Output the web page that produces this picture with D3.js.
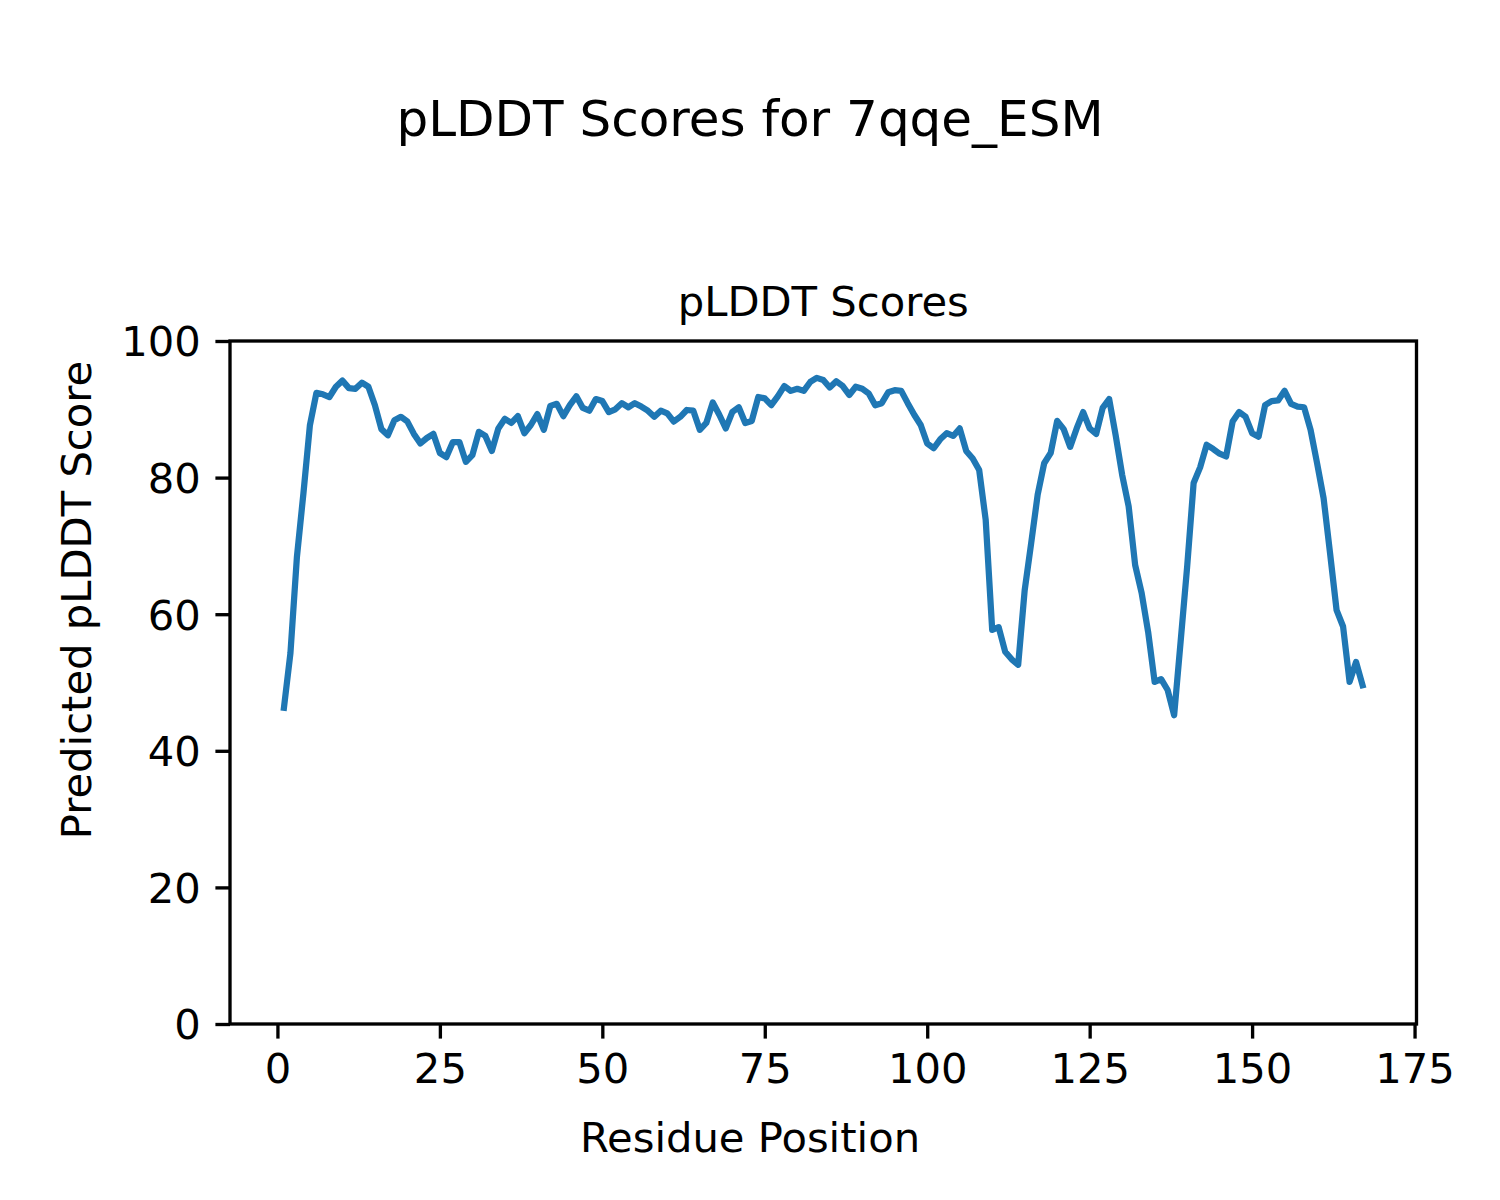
<!DOCTYPE html>
<html>
<head>
<meta charset="utf-8">
<script src="https://cdn.jsdelivr.net/npm/d3@7"></script>
<style>
  html, body { margin: 0; padding: 0; background: #fff; }
  svg { display: block; font-family: "DejaVu Sans", sans-serif; }
</style>
</head>
<body>
<svg id="chart" width="1500" height="1200"></svg>
<script>
// ---- data ----
const residues = d3.range(1, 168);
const plddt = [
  46.3, 54.3, 68.4, 77.7, 87.7, 92.4, 92.2, 91.8, 93.3, 94.2,
  93.1, 93.0, 93.9, 93.3, 90.6, 87.1, 86.2, 88.4, 88.9, 88.2,
  86.4, 85.0, 85.8, 86.4, 83.6, 83.0, 85.2, 85.2, 82.3, 83.3,
  86.7, 86.1, 83.9, 87.2, 88.6, 88.0, 89.0, 86.5, 87.7, 89.3,
  87.0, 90.5, 90.8, 89.0, 90.6, 91.9, 90.2, 89.8, 91.5, 91.2,
  89.6, 90.0, 90.9, 90.3, 90.9, 90.4, 89.8, 88.9, 89.8, 89.4,
  88.2, 88.9, 89.9, 89.8, 87.0, 88.0, 91.0, 89.2, 87.2, 89.6,
  90.3, 88.0, 88.3, 91.8, 91.6, 90.6, 91.9, 93.4, 92.7, 93.0,
  92.7, 94.0, 94.6, 94.3, 93.2, 94.1, 93.4, 92.1, 93.3, 93.0,
  92.3, 90.6, 90.9, 92.5, 92.8, 92.7, 90.9, 89.2, 87.7, 85.0,
  84.3, 85.6, 86.5, 86.1, 87.2, 83.9, 82.8, 81.1, 73.8, 57.7,
  58.1, 54.5, 53.4, 52.6, 63.5, 70.4, 77.5, 82.1, 83.6, 88.3,
  87.1, 84.5, 87.2, 89.6, 87.2, 86.4, 90.2, 91.5, 86.2, 80.4,
  75.8, 67.2, 63.1, 57.4, 50.1, 50.5, 48.9, 45.2, 56.0, 66.9,
  79.2, 81.5, 84.8, 84.2, 83.5, 83.1, 88.2, 89.6, 88.9, 86.5,
  86.0, 90.6, 91.2, 91.3, 92.7, 90.8, 90.4, 90.3, 87.0, 82.1,
  77.0, 68.9, 60.6, 58.2, 50.1, 53.0, 49.6
];
const xTicks = [0, 25, 50, 75, 100, 125, 150, 175];
const yTicks = [0, 20, 40, 60, 80, 100];
const figTitle = "pLDDT Scores for 7qqe_ESM";
const axTitle = "pLDDT Scores";
const xLabel = "Residue Position";
const yLabel = "Predicted pLDDT Score";

// ---- layout ----
const L = 230, R = 1416.5, T = 341, B = 1024;
const svg = d3.select("#chart");
const pad = (167 - 1) * 0.05;
const x = d3.scaleLinear().domain([1 - pad, 167 + pad]).range([L, R]);
const y = d3.scaleLinear().domain([0, 100]).range([B, T]);

const tickLen = 14.6, tickW = 3.33, fs = 41.7;

// line
const line = d3.line().x((d, i) => x(residues[i])).y(d => y(d));
svg.append("path")
  .datum(plddt)
  .attr("d", line)
  .attr("fill", "none")
  .attr("stroke", "#1f77b4")
  .attr("stroke-width", 6.25)
  .attr("stroke-linejoin", "round")
  .attr("stroke-linecap", "square");

// axes
const xAxis = d3.axisBottom(x).tickValues(xTicks).tickSize(tickLen).tickPadding(14.6).tickFormat(d3.format("d"));
const gx = svg.append("g").attr("transform", `translate(0,${B})`).call(xAxis);
gx.select(".domain").remove();
gx.selectAll(".tick line").attr("stroke", "#000").attr("stroke-width", tickW);
gx.selectAll(".tick text").attr("font-size", fs).attr("fill", "#000")
  .attr("font-family", "DejaVu Sans").attr("dy", "0.72em");

const yAxis = d3.axisLeft(y).tickValues(yTicks).tickSize(tickLen).tickPadding(14.6).tickFormat(d3.format("d"));
const gy = svg.append("g").attr("transform", `translate(${L},0)`).call(yAxis);
gy.select(".domain").remove();
gy.selectAll(".tick line").attr("stroke", "#000").attr("stroke-width", tickW);
gy.selectAll(".tick text").attr("font-size", fs).attr("fill", "#000")
  .attr("font-family", "DejaVu Sans").attr("dy", "0.355em");

// spines
svg.append("rect")
  .attr("x", L).attr("y", T).attr("width", R - L).attr("height", B - T)
  .attr("fill", "none").attr("stroke", "#000").attr("stroke-width", 3.33)
  .attr("stroke-linejoin", "miter");

// texts
svg.append("text").attr("x", 750).attr("y", 136).attr("text-anchor", "middle")
  .attr("font-size", 50).attr("fill", "#000").text(figTitle);
svg.append("text").attr("x", (L + R) / 2).attr("y", 316).attr("text-anchor", "middle")
  .attr("font-size", fs).attr("fill", "#000").text(axTitle);
svg.append("text").attr("x", 750).attr("y", 1152).attr("text-anchor", "middle")
  .attr("font-size", fs).attr("fill", "#000").text(xLabel);
svg.append("text").attr("transform", "translate(91,600) rotate(-90)")
  .attr("text-anchor", "middle")
  .attr("font-size", fs).attr("fill", "#000").text(yLabel);
</script>
</body>
</html>
